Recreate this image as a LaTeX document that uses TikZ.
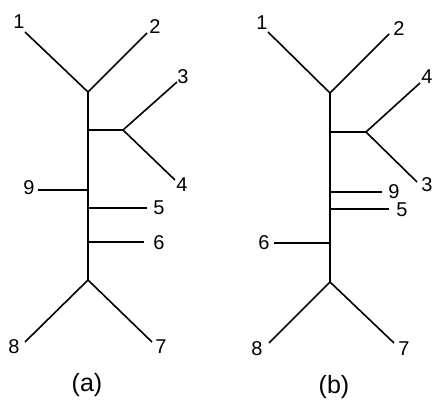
\documentclass[tikz,border=0pt]{standalone}
\usepackage{fontspec}
\setmainfont{Liberation Sans}
\begin{document}
\begin{tikzpicture}[x=1pt,y=1pt,line width=1.6pt]
		\tikzstyle{every node}+=[inner sep=0pt,font=\fontsize{20}{20}\selectfont]
		\tikzstyle{caption}=[font=\fontsize{25}{25}\selectfont]
		\useasboundingbox (0,0) rectangle (434,-403);
		% tree (a)
		\coordinate (aTop) at (88,-92);
		\coordinate (aBot) at (88,-280);
		\coordinate (aS34) at (88,-130);
		\coordinate (aF34) at (123,-130);
		\coordinate (aS9) at (88,-190);
		\coordinate (aS5) at (88,-208);
		\coordinate (aS6) at (88,-242);
		\coordinate (aE1) at (25,-32);
		\coordinate (aE2) at (147,-33);
		\coordinate (aE3) at (177,-82);
		\coordinate (aE4) at (175,-180);
		\coordinate (aE9) at (38,-190);
		\coordinate (aE5) at (147,-208);
		\coordinate (aE6) at (144,-242);
		\coordinate (aE8) at (25,-342);
		\coordinate (aE7) at (152,-342);
		\node (aL1) at (19,-22) {1};
		\node (aL2) at (155,-27) {2};
		\node (aL3) at (183,-77) {3};
		\node (aL4) at (182,-185) {4};
		\node (aL9) at (29,-188) {9};
		\node (aL5) at (159,-208) {5};
		\node (aL6) at (159,-243) {6};
		\node (aL8) at (14,-347) {8};
		\node (aL7) at (161,-347) {7};
		\node [caption] (capA) at (87,-385) {(a)};
		\draw [black] (aTop) -- (aBot);
		\draw [black] (aE1) -- (aTop) -- (aE2);
		\draw [black] (aS34) -- (aF34);
		\draw [black] (aE3) -- (aF34) -- (aE4);
		\draw [black] (aS9) -- (aE9);
		\draw [black] (aS5) -- (aE5);
		\draw [black] (aS6) -- (aE6);
		\draw [black] (aE8) -- (aBot) -- (aE7);
		% tree (b)
		\coordinate (bTop) at (330,-93);
		\coordinate (bBot) at (330,-282);
		\coordinate (bS34) at (330,-132);
		\coordinate (bF34) at (366,-132);
		\coordinate (bS9) at (330,-192);
		\coordinate (bS5) at (330,-209);
		\coordinate (bS6) at (330,-243);
		\coordinate (bE1) at (268,-32);
		\coordinate (bE2) at (389,-34);
		\coordinate (bE4) at (420,-83);
		\coordinate (bE3) at (417,-182);
		\coordinate (bE9) at (382,-192);
		\coordinate (bE5) at (389,-209);
		\coordinate (bE6) at (274,-243);
		\coordinate (bE8) at (269,-343);
		\coordinate (bE7) at (394,-343);
		\node (bL1) at (262,-23) {1};
		\node (bL2) at (399,-29) {2};
		\node (bL4) at (427,-77) {4};
		\node (bL3) at (427,-185) {3};
		\node (bL9) at (394,-192) {9};
		\node (bL5) at (402,-210) {5};
		\node (bL6) at (264,-243) {6};
		\node (bL8) at (257,-349) {8};
		\node (bL7) at (404,-349) {7};
		\node [caption] (capB) at (334,-387) {(b)};
		\draw [black] (bTop) -- (bBot);
		\draw [black] (bE1) -- (bTop) -- (bE2);
		\draw [black] (bS34) -- (bF34);
		\draw [black] (bE4) -- (bF34) -- (bE3);
		\draw [black] (bS9) -- (bE9);
		\draw [black] (bS5) -- (bE5);
		\draw [black] (bS6) -- (bE6);
		\draw [black] (bE8) -- (bBot) -- (bE7);
	\end{tikzpicture}
\end{document}
